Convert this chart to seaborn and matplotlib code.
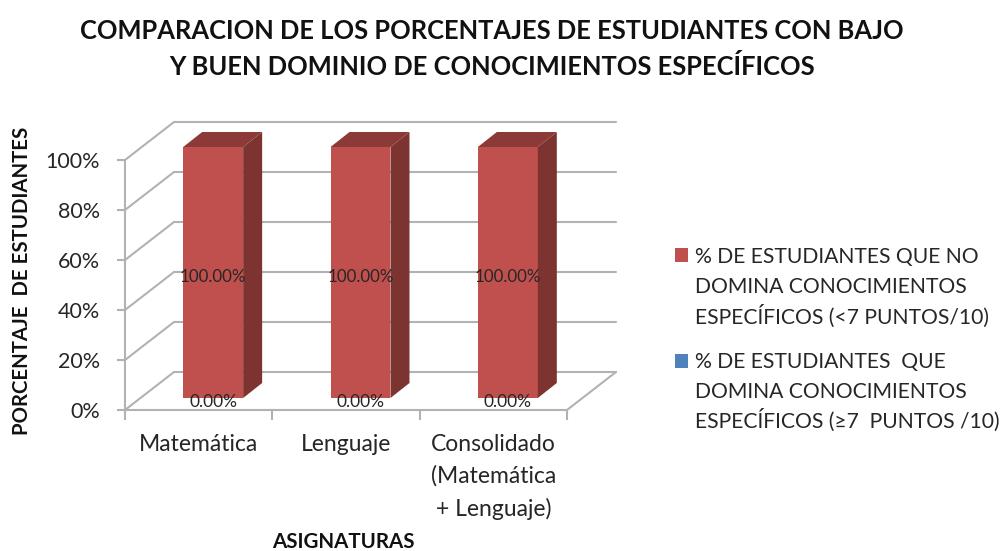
import matplotlib
matplotlib.use('Agg')
import matplotlib.pyplot as plt
from matplotlib.patches import Polygon, Rectangle
import pandas as pd
import seaborn as sns

# Datos
asignaturas = ['Matemática', 'Lenguaje', 'Consolidado\n(Matemática\n+ Lenguaje)']
no_domina = [100, 100, 100]
domina = [0, 0, 0]
etiquetas_no = ['100.00%', '100.00%', '100.00%']
etiquetas_si = ['0.00%', '0.00%', '0.00%']
ticks_y = [0, 20, 40, 60, 80, 100]
leyenda_no = ['% DE ESTUDIANTES QUE NO', 'DOMINA CONOCIMIENTOS', 'ESPECÍFICOS (<7 PUNTOS/10)']
leyenda_si = ['% DE ESTUDIANTES  QUE', 'DOMINA CONOCIMIENTOS', 'ESPECÍFICOS (≥7  PUNTOS /10)']
titulo = 'COMPARACION DE LOS PORCENTAJES DE ESTUDIANTES CON BAJO\nY BUEN DOMINIO DE CONOCIMIENTOS ESPECÍFICOS'

W, H = 1002, 551
sns.set_theme(style='white')
plt.rcParams['font.family'] = ['Lato', 'DejaVu Sans']

ROJO, AZUL = '#C0504D', '#4F81BD'
LADO, TECHO = '#7D3330', '#8C3A38'
GRIS = '#B2B2B2'
TEXTO = '#262626'

df = pd.DataFrame({'asignatura': asignaturas, 'no_domina': no_domina, 'domina': domina})


def caja(x0, y0, x1, y1):
    # pixeles de la imagen -> rectangulo de figura
    return [x0 / W, 1 - y1 / H, (x1 - x0) / W, (y1 - y0) / H]


fig = plt.figure(figsize=(W / 100, H / 100), dpi=100)
ax_fondo = fig.add_axes(caja(125, 160, 567, 410))
ax = fig.add_axes(caja(139.5, 147, 581.5, 398))
ax.patch.set_visible(False)

# paredes del falso 3D
PROF_X = 49 / (442 / 3)
PROF_Y = 38 / 2.5
ax_fondo.set_xlim(-0.5, 2.5)
ax_fondo.set_ylim(0, 100)
for v in ticks_y:
    ax_fondo.plot([-0.5, -0.5 + PROF_X, 2.5 + PROF_X], [v, v + PROF_Y, v + PROF_Y],
                  color=GRIS, lw=1.5, clip_on=False, solid_joinstyle='miter')
ax_fondo.plot([2.5, 2.5 + PROF_X], [0, PROF_Y], color=GRIS, lw=1.5, clip_on=False)

ax_fondo.set_xticks(range(len(asignaturas)))
ax_fondo.set_xticklabels(asignaturas, fontsize=16.5, color=TEXTO, linespacing=1.6)
ax_fondo.set_xticks([-0.5, 0.5, 1.5, 2.5], minor=True)
ax_fondo.tick_params(axis='x', which='major', length=0, pad=17)
ax_fondo.tick_params(axis='x', which='minor', length=7, width=1.5, color=GRIS, bottom=True)
ax_fondo.set_yticks(ticks_y)
ax_fondo.set_yticklabels([f'{v}%' for v in ticks_y], fontsize=15.5, color=TEXTO)
ax_fondo.tick_params(axis='y', length=6, width=1.5, color=GRIS, left=True, pad=12)
sns.despine(ax=ax_fondo)
for lado in ['left', 'bottom']:
    ax_fondo.spines[lado].set_color(GRIS)
    ax_fondo.spines[lado].set_linewidth(1.5)

# barras apiladas: primero la serie en 0, encima la de 100
sns.barplot(data=df, x='asignatura', y='domina', color=AZUL, saturation=1, width=0.407,
            linewidth=0, ax=ax)
sns.barplot(data=df, x='asignatura', y='no_domina', color=ROJO, saturation=1, width=0.407,
            linewidth=0, bottom=domina, ax=ax)
ax.set_xlim(-0.5, 2.5)
ax.set_ylim(0, 100)
ax.axis('off')

# caras lateral y superior de cada barra
DX = 19 / (442 / 3)
DY = 15 / 2.51
for p in ax.patches:
    if p.get_height() == 0:
        continue
    x0, x1 = p.get_x(), p.get_x() + p.get_width()
    y0, y1 = p.get_y(), p.get_y() + p.get_height()
    ax.add_patch(Polygon([(x1, y0), (x1 + DX, y0 + DY), (x1 + DX, y1 + DY), (x1, y1)],
                         color=LADO, lw=0, clip_on=False))
    ax.add_patch(Polygon([(x0, y1), (x0 + DX, y1 + DY), (x1 + DX, y1 + DY), (x1, y1)],
                         color=TECHO, lw=0, clip_on=False))

for i, (no, si) in enumerate(zip(no_domina, domina)):
    ax.text(i, si + no / 2 - 1.8, etiquetas_no[i], ha='center', va='center',
            fontsize=12.2, color=TEXTO, zorder=6)
    ax.text(i, si - 1.5, etiquetas_si[i], ha='center', va='center',
            fontsize=12.5, color=TEXTO, zorder=6, clip_on=False)

# textos de la figura
fig.text(492 / W, 1 - 49 / H, titulo, ha='center', va='center', fontsize=18.4,
         fontweight='bold', color='#111111', linespacing=1.5)
fig.text(22 / W, 1 - 281 / H, 'PORCENTAJE  DE ESTUDIANTES', rotation=90, ha='center', va='center',
         fontsize=14.7, fontweight='bold', color='#111111')
fig.text(343 / W, 1 - 542 / H, 'ASIGNATURAS', ha='center', va='center', fontsize=14.8,
         fontweight='bold', color='#111111')

# leyenda, linea a linea para que el interlineado sea parejo
for color, lineas, y_cuadro, bases in [(ROJO, leyenda_no, 248, [263, 293, 324]),
                                       (AZUL, leyenda_si, 354, [368, 398, 428])]:
    fig.add_artist(Rectangle((675 / W, 1 - (y_cuadro + 14) / H), 13 / W, 14 / H,
                             transform=fig.transFigure, color=color, lw=0))
    for linea, base in zip(lineas, bases):
        fig.text(695 / W, 1 - base / H, linea, ha='left', va='baseline', fontsize=15.2, color=TEXTO)

fig.savefig('out.png', dpi=100, facecolor='white')
